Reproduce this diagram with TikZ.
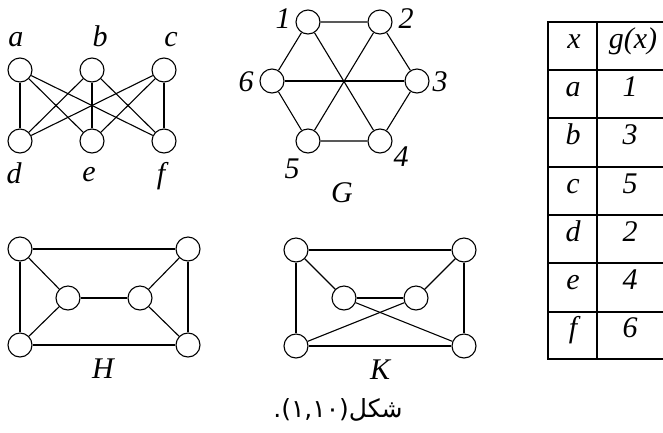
\documentclass[tikz,border=0pt]{standalone}
\usepackage{fontspec}
\setmainfont{Liberation Serif}
\newfontfamily\arabicfont[Script=Arabic]{DejaVu Sans}
\TeXXeTstate=1
\begin{document}
\begin{tikzpicture}[x=1pt,y=-1pt,
  vtx/.style={circle,draw,minimum size=24pt,inner sep=0pt,line width=1.1pt,fill=white},
  edge/.style={line width=1.1pt},
  lbl/.style={anchor=base,inner sep=0pt,font=\fontsize{30}{34}\selectfont\itshape},
  cell/.style={anchor=mid,inner sep=0pt,font=\fontsize{30}{34}\selectfont\itshape},
  tline/.style={line width=1.2pt}]
\useasboundingbox (0,0) rectangle (663,432);

% bipartite graph
\node[vtx] (a) at (20,70) {};
\node[vtx] (b) at (92,70) {};
\node[vtx] (c) at (164,70) {};
\node[vtx] (d) at (20,141) {};
\node[vtx] (e) at (92,141) {};
\node[vtx] (f) at (164,141) {};
\foreach \u in {a,b,c}{\foreach \v in {d,e,f}{\draw[edge] (\u) -- (\v);}}
\node[lbl] (la) at (16,46) {a};
\node[lbl] (lb) at (100,46) {b};
\node[lbl] (lc) at (171,46) {c};
\node[lbl] (ld) at (14,183) {d};
\node[lbl] (le) at (89,181) {e};
\node[lbl] (lf) at (161,183) {f};

% hexagon graph G
\node[vtx] (g1) at (308,22) {};
\node[vtx] (g2) at (380,22) {};
\node[vtx] (g3) at (417,81) {};
\node[vtx] (g4) at (380,141) {};
\node[vtx] (g5) at (308,141) {};
\node[vtx] (g6) at (272,81) {};
\draw[edge] (g1) -- (g2) -- (g3) -- (g4) -- (g5) -- (g6) -- (g1);
\draw[edge] (g1) -- (g4);
\draw[edge] (g2) -- (g5);
\draw[edge] (g6) -- (g3);
\node[lbl] (l1) at (283,28) {1};
\node[lbl] (l2) at (406,28) {2};
\node[lbl] (l6) at (246,91) {6};
\node[lbl] (l3) at (440,91) {3};
\node[lbl] (l5) at (292,178) {5};
\node[lbl] (l4) at (401,166) {4};
\node[lbl] (lG) at (342,202) {G};

% graph H
\node[vtx] (h1) at (20,249) {};
\node[vtx] (h2) at (188,249) {};
\node[vtx] (h3) at (20,345) {};
\node[vtx] (h4) at (188,345) {};
\node[vtx] (h5) at (68,298) {};
\node[vtx] (h6) at (140,298) {};
\draw[edge] (h1) -- (h2) -- (h4) -- (h3) -- (h1);
\draw[edge] (h1) -- (h5) -- (h3);
\draw[edge] (h5) -- (h6);
\draw[edge] (h2) -- (h6) -- (h4);
\node[lbl] (lH) at (103,378) {H};

% graph K
\node[vtx] (k1) at (296,250) {};
\node[vtx] (k2) at (464,250) {};
\node[vtx] (k3) at (296,346) {};
\node[vtx] (k4) at (464,346) {};
\node[vtx] (k5) at (344,298) {};
\node[vtx] (k6) at (416,298) {};
\draw[edge] (k1) -- (k2) -- (k4) -- (k3) -- (k1);
\draw[edge] (k1) -- (k5);
\draw[edge] (k2) -- (k6);
\draw[edge] (k5) -- (k6);
\draw[edge] (k5) -- (k4);
\draw[edge] (k6) -- (k3);
\node[lbl] (lK) at (380,379) {K};

% table
\draw[tline] (668,22) -- (548,22) -- (548,359) -- (668,359);
\draw[tline] (597,22) -- (597,359);
\foreach \yy in {70,118,167,215,263,312}{\draw[tline] (548,\yy) -- (668,\yy);}
\node[cell] (tx) at (574,46) {x};
\node[cell] (tg) at (633,46) {g(x)};
\node[cell] (ta) at (573,94) {a};
\node[cell] (t1) at (630,94) {1};
\node[cell] (tb) at (573,142) {b};
\node[cell] (t3) at (630,142) {3};
\node[cell] (tc) at (573,191) {c};
\node[cell] (t5) at (630,191) {5};
\node[cell] (td) at (573,239) {d};
\node[cell] (t2) at (630,239) {2};
\node[cell] (te) at (573,287) {e};
\node[cell] (t4) at (630,287) {4};
\node[cell] (tf) at (573,335) {f};
\node[cell] (t6) at (630,335) {6};

% caption
\node[inner sep=0pt,font=\fontsize{25}{29}\selectfont] (cap) at (338,410)
  {\arabicfont شکل(١,١٠).};
\end{tikzpicture}
\end{document}
